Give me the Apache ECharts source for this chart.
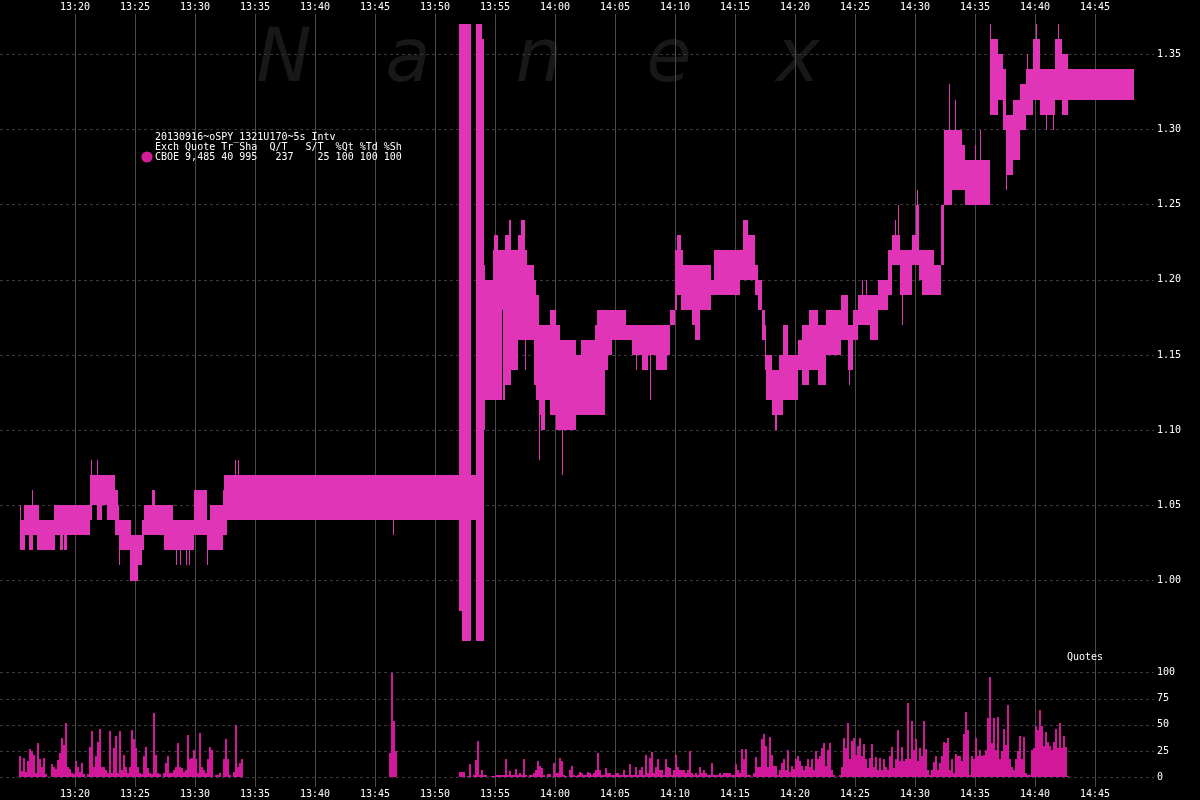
<!DOCTYPE html>
<html>
<head>
<meta charset="utf-8">
<script src="https://cdn.jsdelivr.net/npm/echarts@6/dist/echarts.min.js"></script>
<style>
html,body{margin:0;padding:0;background:#000;}
#chart{width:1200px;height:800px;}
</style>
</head>
<body>
<div id="chart"></div>
<script>
// ---------- DATA ----------
const xTickLabels = ['13:20','13:25','13:30','13:35','13:40','13:45','13:50','13:55','14:00','14:05','14:10','14:15','14:20','14:25','14:30','14:35','14:40','14:45'];
const priceTickLabels = ['1.00','1.05','1.10','1.15','1.20','1.25','1.30','1.35'];
const quoteTickLabels = ['0','25','50','75','100'];

// bid/ask band: each segment runs from its start time to the next start (last one to bandEnd)
const bandStart = [
'13:15:25','13:15:30','13:15:45','13:15:50','13:16:10','13:16:25','13:16:30','13:16:50','13:17:00','13:18:15',
'13:18:20','13:18:45','13:19:00','13:19:05','13:19:20','13:21:15','13:21:20','13:21:25','13:21:50','13:21:55',
'13:22:15','13:22:40','13:23:20','13:23:35','13:23:40','13:23:45','13:24:35','13:24:40','13:25:15','13:25:35',
'13:25:45','13:26:25','13:26:40','13:27:25','13:28:10','13:28:25','13:28:30','13:28:45','13:28:50','13:29:15',
'13:29:20','13:29:30','13:29:35','13:29:55','13:31:00','13:31:05','13:31:15','13:32:20','13:32:25','13:32:40',
'13:33:20','13:33:25','13:33:35','13:33:40','13:46:30','13:46:35','13:52:00','13:52:15','13:53:00','13:53:25',
'13:53:55','13:54:05','13:54:10','13:54:50','13:54:55','13:55:15','13:55:35','13:55:40','13:55:50','13:56:10',
'13:56:20','13:56:55','13:57:10','13:57:30','13:57:35','13:57:40','13:58:15','13:58:25','13:58:40','13:58:45',
'13:58:50','13:59:10','13:59:35','14:00:05','14:00:25','14:00:35','14:00:40','14:01:45','14:02:10','14:03:20',
'14:03:30','14:04:10','14:04:25','14:04:45','14:05:55','14:06:25','14:06:45','14:06:50','14:07:15','14:07:45',
'14:07:55','14:08:00','14:08:25','14:09:20','14:09:35','14:10:00','14:10:10','14:10:30','14:10:40','14:11:25',
'14:11:40','14:12:05','14:13:00','14:13:15','14:15:25','14:15:40','14:16:05','14:16:40','14:16:55','14:17:15',
'14:17:30','14:17:35','14:18:05','14:18:20','14:18:30','14:18:40','14:19:00','14:19:25','14:20:15','14:20:35',
'14:21:10','14:21:55','14:22:35','14:23:50','14:24:25','14:24:30','14:24:35','14:24:50','14:25:15','14:25:35',
'14:25:40','14:25:55','14:26:00','14:26:15','14:26:55','14:27:45','14:28:05','14:28:20','14:28:25','14:28:35',
'14:28:40','14:28:45','14:28:55','14:29:00','14:29:45','14:30:05','14:30:10','14:30:15','14:30:20','14:30:35',
'14:31:35','14:32:10','14:32:25','14:32:50','14:32:55','14:33:05','14:33:20','14:33:25','14:33:55','14:34:10',
'14:35:00','14:35:05','14:35:25','14:35:30','14:36:15','14:36:20','14:36:55','14:37:20','14:37:35','14:37:40',
'14:38:10','14:38:45','14:39:15','14:39:20','14:39:25','14:39:50','14:40:05','14:40:10','14:40:25','14:40:55',
'14:41:00','14:41:30','14:41:35','14:41:40','14:41:55','14:42:00','14:42:15','14:42:45'
];
const bandEnd = '14:48:15';
const bandLow = [
1.02,1.02,1.02,1.03,1.02,1.02,1.03,1.02,1.02,1.02,
1.03,1.02,1.03,1.02,1.03,1.04,1.04,1.05,1.04,1.04,
1.05,1.04,1.03,1.03,1.01,1.02,1.00,1.00,1.01,1.02,
1.03,1.03,1.03,1.02,1.02,1.01,1.02,1.01,1.02,1.01,
1.02,1.01,1.02,1.03,1.01,1.02,1.02,1.03,1.03,1.04,
1.04,1.04,1.04,1.04,1.03,1.04,0.98,0.96,1.04,0.96,
0.96,1.10,1.12,1.12,1.12,1.12,1.18,1.12,1.13,1.13,
1.14,1.16,1.16,1.14,1.16,1.16,1.13,1.12,1.08,1.11,
1.10,1.12,1.11,1.10,1.10,1.07,1.10,1.11,1.11,1.11,
1.11,1.14,1.15,1.16,1.16,1.15,1.14,1.15,1.14,1.15,
1.12,1.15,1.14,1.15,1.17,1.18,1.19,1.18,1.18,1.17,
1.16,1.18,1.19,1.19,1.20,1.20,1.20,1.19,1.18,1.16,
1.14,1.12,1.11,1.10,1.11,1.11,1.12,1.12,1.14,1.13,
1.14,1.13,1.15,1.16,1.14,1.13,1.14,1.16,1.17,1.17,
1.17,1.17,1.17,1.16,1.18,1.19,1.21,1.21,1.21,1.21,
1.21,1.19,1.17,1.19,1.21,1.21,1.21,1.21,1.20,1.19,
1.19,1.21,1.25,1.25,1.25,1.26,1.26,1.26,1.26,1.25,
1.25,1.25,1.25,1.25,1.31,1.31,1.32,1.30,1.26,1.27,
1.28,1.30,1.31,1.31,1.31,1.32,1.32,1.32,1.31,1.30,
1.31,1.30,1.31,1.32,1.32,1.32,1.31,1.32
];
const bandHigh = [
1.05,1.04,1.05,1.05,1.05,1.06,1.05,1.05,1.04,1.05,
1.05,1.05,1.05,1.05,1.05,1.07,1.08,1.07,1.08,1.07,
1.07,1.07,1.06,1.05,1.04,1.04,1.04,1.03,1.03,1.04,
1.05,1.06,1.05,1.05,1.04,1.04,1.04,1.04,1.04,1.04,
1.04,1.04,1.04,1.06,1.04,1.04,1.05,1.06,1.07,1.07,
1.08,1.07,1.08,1.07,1.07,1.07,1.37,1.37,1.07,1.37,
1.36,1.21,1.20,1.22,1.23,1.22,1.22,1.22,1.23,1.24,
1.22,1.23,1.24,1.22,1.22,1.21,1.20,1.19,1.17,1.17,
1.17,1.17,1.18,1.17,1.16,1.16,1.16,1.15,1.16,1.17,
1.18,1.18,1.18,1.18,1.17,1.17,1.17,1.17,1.17,1.17,
1.17,1.17,1.17,1.17,1.18,1.22,1.23,1.22,1.21,1.21,
1.21,1.21,1.20,1.22,1.22,1.24,1.23,1.21,1.20,1.18,
1.17,1.15,1.14,1.14,1.14,1.15,1.17,1.15,1.16,1.17,
1.18,1.17,1.18,1.19,1.17,1.17,1.17,1.18,1.19,1.20,
1.19,1.20,1.19,1.19,1.20,1.22,1.23,1.24,1.23,1.25,
1.23,1.22,1.22,1.22,1.23,1.25,1.26,1.25,1.22,1.22,
1.21,1.25,1.30,1.33,1.30,1.30,1.32,1.30,1.29,1.28,
1.29,1.28,1.30,1.28,1.37,1.36,1.35,1.34,1.31,1.31,
1.32,1.33,1.34,1.35,1.34,1.36,1.37,1.36,1.34,1.34,
1.34,1.34,1.34,1.36,1.37,1.36,1.35,1.34
];

// quote counts, 10-second bins
const quotesEarlyStart = '13:15:20';
const quotesEarly = [20,6,18,5,15,27,25,21,4,33,17,10,18,3,0,0,12,10,8,16,23,37,31,52,10,8,4,3,15,10,5,13,3,0,3,29,44,10,20,34,46,10,10,7,4,44,4,28,39,4,44,7,21,10,4,10,45,36,28,10,4,3,20,29,9,4,3,61,21,4,3,0,4,13,20,4,4,7,10,33,10,9,5,7,40,17,18,26,17,4,42,10,7,4,17,29,26,0,2,2,4,0,17,36,17,2,0,5,50,10,13,17];
const quotesMidStart = '13:46:10';
const quotesMid = [23,100,54,25];
const quotesLateStart = '13:52:00';
const quotesLate = [
5,5,5,0,1,12,0,2,16,35, 2,7,2,2,0,0,1,1,2,2, 2,2,2,17,2,6,2,2,8,2, 4,2,17,2,0,2,2,4,7,15,
11,9,2,0,3,3,0,13,4,4, 18,15,2,1,0,7,11,2,1,2, 5,4,2,2,5,4,2,4,7,23, 7,2,2,9,4,4,2,2,4,4,
2,2,7,2,2,12,2,2,10,2, 7,10,2,21,4,18,24,4,10,17, 7,7,2,17,10,9,2,7,21,10, 7,7,7,4,7,25,4,2,4,2,
10,4,7,4,2,2,13,2,2,2, 4,2,4,4,4,4,2,2,12,7, 4,27,17,27,2,2,0,4,19,10, 10,36,41,30,10,38,21,11,11,2,
7,13,17,7,26,5,11,8,17,20, 15,11,7,11,17,10,17,7,25,17, 20,28,33,11,26,33,7,2,0,0, 2,10,37,28,52,17,35,37,21,30,
37,20,32,17,9,18,32,10,19,7, 18,7,17,10,7,20,29,9,17,45, 15,29,15,17,71,17,54,26,36,15, 28,20,54,27,7,2,7,14,20,7,
13,20,34,33,37,7,17,4,22,20, 20,15,41,62,45,2,20,17,37,20, 26,20,21,26,57,96,33,57,26,58, 17,25,46,31,69,17,10,7,17,25,
39,17,38,4,2,2,26,28,49,45, 64,49,30,43,34,30,26,34,46,28, 52,28,39,29,1
];
const QUOTE_BIN_SEC = 10;

const legendLines = [
  '20130916~oSPY_1321U170~5s Intv',
  'Exch Quote Tr Sha  Q/T   S/T  %Qt %Td %Sh',
  'CBOE 9,485 40 995   237    25 100 100 100'
];
const watermarkLetters = ['N','a','n','e','x'];

// ---------- BUILD ----------
function toSec(s){const p=s.split(':').map(Number);return p[0]*3600+p[1]*60+(p[2]||0);}
function fmtHM(v){const h=Math.floor(v/3600),m=Math.round((v%3600)/60);return h+':'+(m<10?'0':'')+m;}

const xTicks = xTickLabels.map(toSec);
const priceTicks = priceTickLabels.map(Number);
const quoteTicks = quoteTickLabels.map(Number);

const bandData = bandStart.map((s,i)=>[
  toSec(s),
  i+1<bandStart.length ? toSec(bandStart[i+1]) : toSec(bandEnd),
  bandLow[i], bandHigh[i]
]);

const quoteData = [];
[[quotesEarlyStart,quotesEarly],[quotesMidStart,quotesMid],[quotesLateStart,quotesLate]].forEach(([st,arr])=>{
  const t0 = toSec(st);
  arr.forEach((v,i)=>{ if(v>0) quoteData.push([t0+i*QUOTE_BIN_SEC, t0+(i+1)*QUOTE_BIN_SEC, v]); });
});

const X_MIN = toSec('13:13:45'), X_MAX = toSec('14:49:55');
const BAND_COLOR = '#E035B6';
const QUOTE_COLOR = '#D2189A';
const FONT = '"DejaVu Sans Mono", monospace';

function rectItem(api, x0, x1, y0, y1, color){
  const a = api.coord([x0, y1]);
  const b = api.coord([x1, y0]);
  const l = Math.round(a[0]), r = Math.max(Math.round(b[0]), l+1);
  const t = Math.round(a[1]), bt = Math.round(b[1]);
  return {type:'rect', shape:{x:l, y:t, width:r-l, height:bt-t}, style:{fill:color}};
}

const xAxisCommon = {
  type:'value', min:X_MIN, max:X_MAX,
  axisLine:{show:false},
  axisTick:{show:false, customValues:xTicks},
  axisLabel:{customValues:xTicks, formatter:fmtHM, color:'#ffffff', fontFamily:FONT, fontSize:10},
  splitLine:{show:true, lineStyle:{color:'#4a4a4a', width:1, type:'solid'}}
};

const chart = echarts.init(document.getElementById('chart'), null, {renderer:'canvas'});
chart.setOption({
  backgroundColor:'#000000',
  animation:false,
  grid:[
    {left:0, right:46, top:14, height:648},
    {left:0, right:46, top:662, height:125}
  ],
  xAxis:[
    Object.assign({}, xAxisCommon, {gridIndex:0, position:'top', axisLabel:Object.assign({}, xAxisCommon.axisLabel, {margin:2})}),
    Object.assign({}, xAxisCommon, {gridIndex:1, position:'bottom', axisLabel:Object.assign({}, xAxisCommon.axisLabel, {margin:2})})
  ],
  yAxis:[
    {gridIndex:0, type:'value', position:'right', min:0.9458, max:1.3769,
     axisLine:{show:false}, axisTick:{show:false, customValues:priceTicks},
     axisLabel:{customValues:priceTicks, formatter:v=>v.toFixed(2), color:'#ffffff', fontFamily:FONT, fontSize:10, margin:3},
     splitLine:{show:true, lineStyle:{color:'#3a3a3a', type:[3,3], width:1}}},
    {gridIndex:1, type:'value', position:'right', min:-9.6, max:110.3,
     axisLine:{show:false}, axisTick:{show:false, customValues:quoteTicks},
     axisLabel:{customValues:quoteTicks, formatter:v=>String(Math.round(v)), color:'#ffffff', fontFamily:FONT, fontSize:10, margin:3},
     splitLine:{show:true, lineStyle:{color:'#3a3a3a', type:[3,3], width:1}}}
  ],
  graphic:[
    ...watermarkLetters.map((ch,i)=>({
      type:'text', z:-10, silent:true,
      x:[284,408,539,669,798][i], y:62,
      style:{text:ch, font:'italic 74px "DejaVu Sans"', fill:'#181818', align:'center', verticalAlign:'middle'}
    })),
    ...legendLines.map((line,i)=>({
      type:'text', z:50, x:155, y:137+i*10,
      style:{text:line, font:'10px '+FONT, fill:'#ffffff', align:'left', verticalAlign:'middle'}
    })),
    {type:'circle', z:50, shape:{cx:147, cy:157, r:5.6}, style:{fill:'#D21C98'}},
    {type:'text', z:50, x:1085, y:657, style:{text:'Quotes', font:'10px '+FONT, fill:'#ffffff', align:'center', verticalAlign:'middle'}}
  ],
  series:[
    {
      type:'custom', name:'CBOE', xAxisIndex:0, yAxisIndex:0,
      encode:{x:[0,1], y:[2,3]},
      data:bandData,
      renderItem:(params, api)=>rectItem(api, api.value(0), api.value(1), api.value(2), api.value(3), BAND_COLOR)
    },
    {
      type:'custom', name:'Quotes', xAxisIndex:1, yAxisIndex:1,
      encode:{x:[0,1], y:2},
      data:quoteData,
      renderItem:(params, api)=>rectItem(api, api.value(0), api.value(1), 0, api.value(2), QUOTE_COLOR)
    }
  ]
});
</script>
</body>
</html>
